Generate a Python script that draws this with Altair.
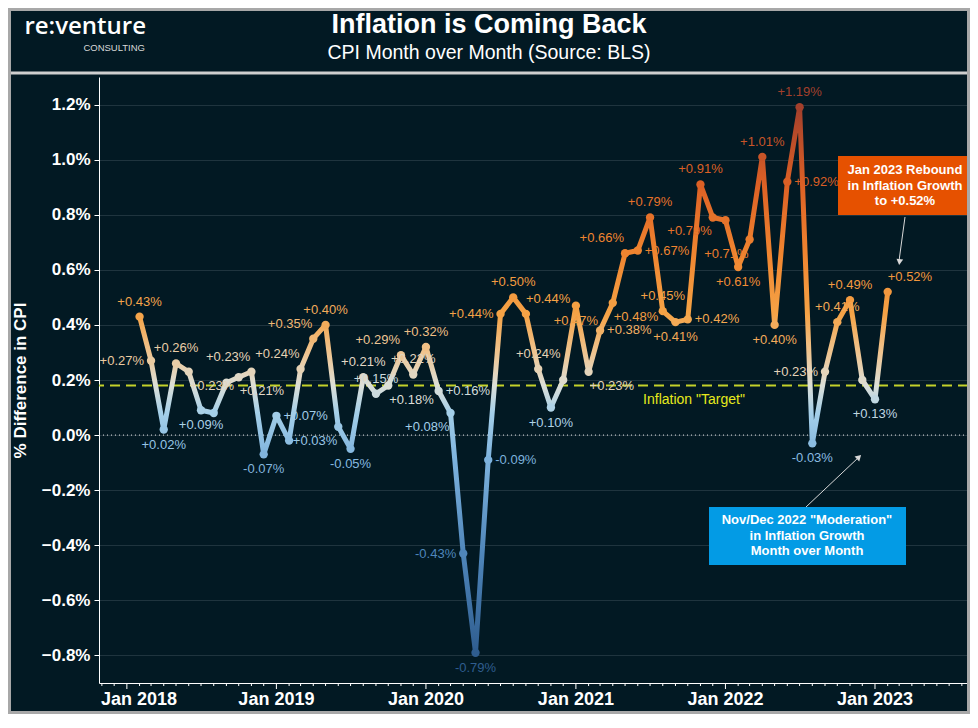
import altair as alt
import pandas as pd

# ---------------- data (CPI month-over-month %, seasonally adjusted) ----------------
cpi_2018 = [0.43, 0.27, 0.02, 0.26, 0.23, 0.09, 0.08, 0.19, 0.21, 0.23, -0.07, 0.07]
cpi_2019 = [-0.02, 0.24, 0.35, 0.40, 0.03, -0.05, 0.21, 0.15, 0.18, 0.29, 0.22, 0.32]
cpi_2020 = [0.16, 0.08, -0.43, -0.79, -0.09, 0.44, 0.50, 0.44, 0.24, 0.10, 0.20, 0.47]
cpi_2021 = [0.23, 0.38, 0.48, 0.66, 0.67, 0.79, 0.45, 0.41, 0.42, 0.91, 0.79, 0.78]
cpi_2022 = [0.61, 0.71, 1.01, 0.40, 0.92, 1.19, -0.03, 0.23, 0.41, 0.49, 0.20, 0.13]
cpi_2023 = [0.52]
first_month = "2018-01-01"
target_rate = 0.18
y_tick_values = [-0.8, -0.6, -0.4, -0.2, 0.0, 0.2, 0.4, 0.6, 0.8, 1.0, 1.2]
x_label_dates = ["2018-01-01", "2019-01-01", "2020-01-01", "2021-01-01", "2022-01-01", "2023-01-01"]
x_domain = ["2017-10-25", "2023-08-16"]

# where each point's value label sits (a=above, b=below, l=left, r=right, n=none, combos)
label_side = (
    ["a", "l", "b", "a", "br", "b", "n", "n", "br", "al", "b", "r"] +
    ["n", "al", "al", "a", "bl", "b", "a", "a", "br", "al", "a", "a"] +
    ["r", "bl", "l", "b", "r", "l", "a", "ar", "a", "b", "n", "b"] +
    ["br", "r", "br", "al", "r", "a", "a", "b", "r", "a", "bl", "n"] +
    ["b", "bl", "a", "b", "r", "a", "b", "l", "a", "a", "n", "b"] +
    ["ar"]
)

title_text = "Inflation is Coming Back"
subtitle_text = "CPI Month over Month (Source: BLS)"
orange_note = ["Jan 2023 Rebound", "in Inflation Growth", "to +0.52%"]
blue_note = ['Nov/Dec 2022 "Moderation"', "in Inflation Growth", "Month over Month"]

# colour ramp (value -> colour)
ramp_values = [-0.79, -0.43, -0.09, 0.08, 0.18, 0.30, 0.44, 0.66, 0.91, 1.19]
ramp_colors = ["#2f5d8f", "#4f86ba", "#7db2dd", "#a4cfe9", "#dcdfd8",
               "#efc48f", "#f5a346", "#f08530", "#dc6025", "#a3402c"]

# ---------------- tables ----------------
values = cpi_2018 + cpi_2019 + cpi_2020 + cpi_2021 + cpi_2022 + cpi_2023
months = pd.date_range(first_month, periods=len(values), freq="MS")
plot_dates = months + pd.offsets.MonthBegin(1)   # each month plotted at its end

df = pd.DataFrame({
    "date": plot_dates,
    "v": values,
    "label": [f"{v:+.2f}%" for v in values],
    "side": label_side,
})
ticks_df = pd.DataFrame({"date": pd.date_range("2017-11-01", x_domain[1], freq="MS")})
ticks_df["major"] = ticks_df["date"].dt.month == 1
years_df = pd.DataFrame({"date": pd.to_datetime(x_label_dates)})
years_df["first"] = years_df.index == 0
years_df["pos"] = years_df["date"].where(~years_df["first"], pd.Timestamp(x_domain[0]))
one = pd.DataFrame({"a": [0]})

W, H = 869, 606
PAD = {"left": 91, "top": 69, "right": 2, "bottom": 31}
BG = "#021923"
SANS = "Liberation Sans, Arial"

vmin, vmax = min(values), max(values)
stops = [alt.GradientStop(offset=(vmax - val) / (vmax - vmin), color=col)
         for val, col in sorted(zip(ramp_values, ramp_colors), key=lambda t: -t[0])]
line_grad = alt.LinearGradient(gradient="linear", stops=stops, x1=0, x2=0, y1=0, y2=1)
color_scale = alt.Scale(domain=ramp_values, range=ramp_colors, interpolate="rgb")

x_enc = alt.X("date:T", scale=alt.Scale(domain=x_domain),
              axis=alt.Axis(title=None, grid=False, labels=False, ticks=False,
                            domainColor="white", domainWidth=1))
y_enc = alt.Y("v:Q", scale=alt.Scale(domain=[-0.9, 1.3], nice=False),
              axis=alt.Axis(values=y_tick_values, title="% Difference in CPI",
                            labelExpr="format(datum.value, '.1f') + '%'",
                            grid=True, gridColor="#1f343e", gridWidth=1,
                            tickSize=5, tickColor="white", domainColor="white",
                            labelFont=SANS, labelFontSize=17, labelFontWeight="bold",
                            labelColor="white", labelPadding=4,
                            titleFont=SANS, titleFontSize=17, titleFontWeight="bold",
                            titleColor="white", titlePadding=12))

base = alt.Chart(df)

line = base.mark_line(stroke=line_grad, strokeWidth=5, strokeJoin="round",
                      strokeCap="round").encode(x=x_enc, y=y_enc)
points = base.mark_circle(size=70, opacity=1).encode(
    x="date:T", y="v:Q",
    color=alt.Color("v:Q", scale=color_scale, legend=None))

side_style = {
    "a": dict(align="center", dx=0, dy=-15),
    "b": dict(align="center", dx=0, dy=15),
    "l": dict(align="right", dx=-7, dy=0),
    "r": dict(align="left", dx=7, dy=0),
    "al": dict(align="right", dx=-1, dy=-15),
    "ar": dict(align="left", dx=0, dy=-15),
    "bl": dict(align="right", dx=-1, dy=14),
    "br": dict(align="left", dx=1, dy=14),
}
label_layers = [
    base.transform_filter(alt.datum.side == s).mark_text(
        font=SANS, fontSize=13, baseline="middle", **st).encode(
        x="date:T", y="v:Q", text="label:N",
        color=alt.Color("v:Q", scale=color_scale, legend=None))
    for s, st in side_style.items()
]

# x-axis ticks and year labels
tick_chart = alt.Chart(ticks_df)
minor_ticks = tick_chart.transform_filter(~alt.datum.major).mark_rule(
    color="white", strokeWidth=1).encode(x="date:T", y=alt.value(H), y2=alt.value(H + 3))
major_ticks = tick_chart.transform_filter(alt.datum.major).mark_rule(
    color="white", strokeWidth=1).encode(x="date:T", y=alt.value(H), y2=alt.value(H + 6))
year_chart = alt.Chart(years_df)
year_style = dict(color="white", font=SANS, fontSize=18, fontWeight="bold", baseline="middle")
year_first = year_chart.transform_filter(alt.datum.first).mark_text(
    align="left", dx=2, **year_style).encode(
    x="pos:T", y=alt.value(H + 17), text=alt.Text("date:T", format="%b %Y"))
year_rest = year_chart.transform_filter(~alt.datum.first).mark_text(
    align="center", **year_style).encode(
    x="pos:T", y=alt.value(H + 17), text=alt.Text("date:T", format="%b %Y"))

deco = alt.Chart(one)
zero_rule = deco.mark_rule(color="#e8e8e8", strokeDash=[1, 3], strokeWidth=1).encode(y=alt.datum(0))
target_rule = deco.mark_rule(color="#c4d22a", strokeDash=[10, 6], strokeWidth=2).encode(
    y=alt.datum(target_rate))
target_txt = deco.mark_text(text='Inflation "Target"', color="#e6ea1c", font=SANS, fontSize=14,
                            baseline="middle", align="center", dy=14).encode(
    x=alt.value(595), y=alt.datum(target_rate))

# annotation boxes
orange_box = deco.mark_rect(color="#e65100").encode(
    x=alt.value(739), x2=alt.value(869), y=alt.value(79), y2=alt.value(138))
orange_txt = deco.mark_text(text=orange_note, color="white", font=SANS, fontSize=13,
                            fontWeight="bold", lineHeight=15.5, align="center",
                            baseline="middle").encode(x=alt.value(806), y=alt.value(93))
blue_box = deco.mark_rect(color="#039be5").encode(
    x=alt.value(610), x2=alt.value(807), y=alt.value(430), y2=alt.value(488))
blue_txt = deco.mark_text(text=blue_note, color="white", font=SANS, fontSize=13,
                          fontWeight="bold", lineHeight=15.5, align="center",
                          baseline="middle").encode(x=alt.value(708), y=alt.value(443))
arrow1 = deco.mark_rule(color="#d8d8d8", strokeWidth=1).encode(
    x=alt.value(806), y=alt.value(140), x2=alt.value(800), y2=alt.value(184))
head1 = deco.mark_point(shape="triangle-down", filled=True, size=45, color="#d8d8d8",
                        opacity=1, angle=7).encode(x=alt.value(800.5), y=alt.value(185))
arrow2 = deco.mark_rule(color="#d8d8d8", strokeWidth=1).encode(
    x=alt.value(707), y=alt.value(430), x2=alt.value(760), y2=alt.value(380))
head2 = deco.mark_point(shape="triangle-up", filled=True, size=45, color="#d8d8d8",
                        opacity=1, angle=46).encode(x=alt.value(760), y=alt.value(380))

# header
title = deco.mark_text(text=title_text, color="white", font=SANS, fontSize=27,
                       fontWeight="bold", align="center", baseline="middle").encode(
    x=alt.value(390), y=alt.value(-52))
subtitle = deco.mark_text(text=subtitle_text, color="white", font=SANS, fontSize=19.5,
                          align="center", baseline="middle").encode(
    x=alt.value(390), y=alt.value(-24))
logo1 = deco.mark_text(text="re:venture", color="white", font="Open Sans, Lato, Liberation Sans",
                       fontSize=24, fontWeight=600, align="right", baseline="middle").encode(
    x=alt.value(47), y=alt.value(-50))
logo2 = deco.mark_text(text="CONSULTING", color="#d8d8d8", font=SANS, fontSize=9.5,
                       align="right", baseline="middle").encode(
    x=alt.value(46), y=alt.value(-29))
separator = deco.mark_rule(color="#cfcfcf", strokeWidth=3).encode(
    x=alt.value(-91), x2=alt.value(W + 2), y=alt.value(-4))
frame = deco.mark_rect(fill=BG, fillOpacity=0, stroke="#a8a8a8", strokeWidth=3).encode(
    x=alt.value(-89.5), x2=alt.value(W + 0.5), y=alt.value(-67.5), y2=alt.value(H + PAD["bottom"] - 1.5))

chart = alt.layer(
    zero_rule, target_rule, target_txt, line, points, *label_layers,
    minor_ticks, major_ticks, year_first, year_rest,
    orange_box, orange_txt, blue_box, blue_txt, arrow1, head1, arrow2, head2,
    title, subtitle, logo1, logo2, separator, frame,
).properties(
    width=W, height=H, padding=PAD, background=BG,
    autosize=alt.AutoSizeParams(type="none"),
).configure_view(strokeWidth=0)

chart.save("out.html", embed_options={"renderer": "svg", "actions": False})
